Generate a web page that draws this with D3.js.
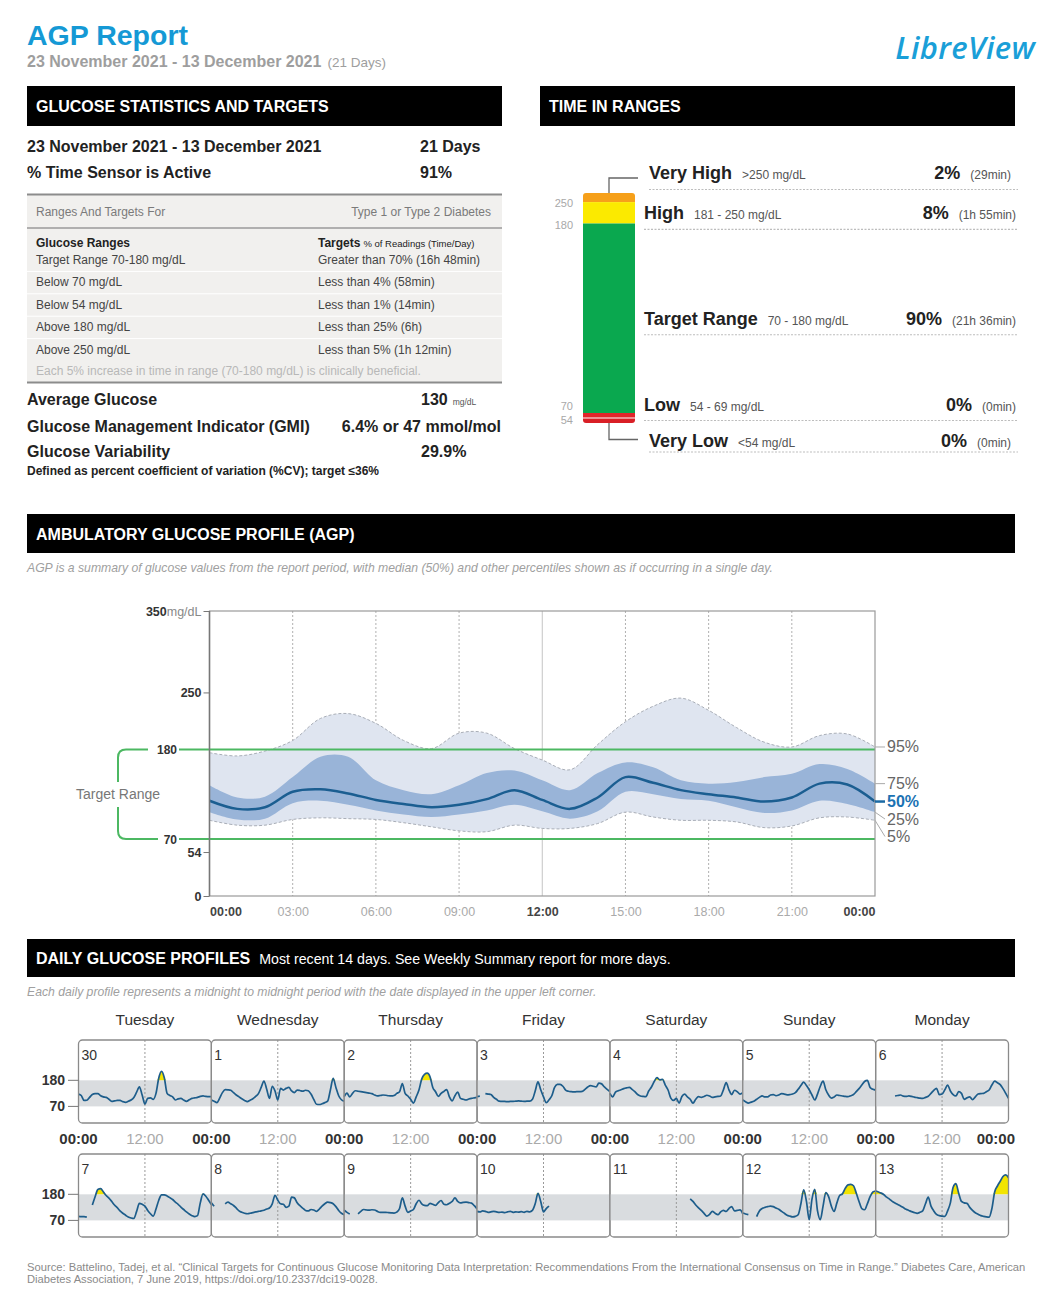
<!DOCTYPE html>
<html>
<head>
<meta charset="utf-8">
<title>AGP Report</title>
<script src="https://cdn.jsdelivr.net/npm/d3@7"></script>
<style>
  body { margin: 0; background: #fff; }
  svg { display: block; }
</style>
</head>
<body>
<script>
// ---- report values ----
var periodText = "23 November 2021 - 13 December 2021";
var reportDays = 21;
var sensorActive = 91;

var rangeRows = ["Target Range 70-180 mg/dL", "Below 70 mg/dL", "Below 54 mg/dL", "Above 180 mg/dL", "Above 250 mg/dL"];
var rangeTargets = ["Greater than 70% (16h 48min)", "Less than 4% (58min)", "Less than 1% (14min)", "Less than 25% (6h)", "Less than 5% (1h 12min)"];

var avgGlucose = 130;
var gmiText = "6.4% or 47 mmol/mol";
var cvText = "29.9%";

var tirNames = ["Very High", "High", "Target Range", "Low", "Very Low"];
var tirRanges = [">250 mg/dL", "181 - 250 mg/dL", "70 - 180 mg/dL", "54 - 69 mg/dL", "<54 mg/dL"];
var tirPct = [2, 8, 90, 0, 0];
var tirTime = ["29min", "1h 55min", "21h 36min", "0min", "0min"];
var tirBounds = [250, 180, 70, 54];
var tirColors = ["#f6a01a", "#fbea00", "#0aa84f", "#e2252b", "#d91f26"];

// AGP percentiles, one value per hour 00:00 .. 24:00 (mg/dL)
var agpHours = d3.range(0, 25);
var agpP95 = [176, 172, 178, 191, 218, 224, 212, 191, 181, 200, 200, 181, 167, 155, 186, 214, 233, 243, 228, 207, 189, 183, 197, 199, 183];
var agpP75 = [136, 121, 122, 146, 171, 171, 142, 130, 125, 136, 151, 154, 142, 130, 151, 164, 158, 142, 138, 140, 146, 150, 162, 156, 138];
var agpP50 = [117, 107, 109, 128, 131, 126, 118, 113, 109, 112, 119, 130, 118, 107, 121, 146, 139, 130, 125, 121, 116, 121, 138, 137, 116];
var agpP25 = [103, 94, 95, 114, 117, 112, 105, 100, 97, 100, 105, 112, 104, 95, 104, 128, 125, 119, 117, 109, 102, 105, 117, 113, 103];
var agpP5 = [93, 87, 87, 94, 96, 95, 94, 90, 85, 80, 79, 87, 83, 83, 89, 103, 97, 93, 93, 91, 84, 86, 96, 97, 93];
var pctLabels = ["95%", "75%", "50%", "25%", "5%"];

// daily profiles, one reading every 30 minutes 00:00 .. 24:00 (null = no data)
var halfHours = d3.range(0, 24.5, 0.5);
var weekdays = ["Tuesday", "Wednesday", "Thursday", "Friday", "Saturday", "Sunday", "Monday"];
var dayNumbers = [30, 1, 2, 3, 4, 5, 6, 7, 8, 9, 10, 11, 12, 13];

var day30 = [122,116,95,96,108,120,124,124,115,110,108,100,91,93,95,95,90,87,92,97,108,130,152,118,80,104,106,100,125,190,218,191,125,116,110,97,102,104,97,91,98,104,106,108,112,114,112,111,111];
var day01 = [97,92,86,105,128,141,140,138,128,118,110,102,95,90,96,102,112,124,150,177,142,104,155,135,97,146,139,146,150,135,128,139,137,134,138,136,122,100,79,78,81,86,92,139,188,150,115,98,92];
var day02 = [111,126,110,125,136,134,132,130,128,126,124,118,114,116,118,117,115,114,116,125,132,166,125,114,100,84,110,139,185,205,210,195,150,132,112,125,133,141,110,93,115,130,104,100,97,101,104,106,108];
var day03 = [111,113,null,124,122,120,108,100,92,91,91,90,91,91,92,93,92,91,92,92,100,135,173,140,110,86,98,115,150,163,163,155,139,134,132,131,132,132,133,142,152,158,155,152,168,165,152,142,132];
var day04 = [125,110,130,136,140,145,148,150,142,132,120,114,112,111,135,152,175,191,182,184,160,139,105,95,104,84,112,122,110,100,84,100,111,108,112,117,114,108,110,112,114,140,170,140,120,138,132,122,128];
var day05 = [97,90,84,88,92,100,108,114,110,110,118,120,115,118,124,122,119,120,122,128,142,158,172,158,140,118,97,122,155,177,140,118,105,110,118,116,114,112,111,115,120,132,145,160,175,180,150,142,139];
var day06 = [null,null,null,null,null,null,null,114,116,118,113,112,114,112,109,107,105,104,108,113,125,138,146,120,122,140,160,135,120,114,132,125,100,106,110,98,110,122,124,125,132,139,160,177,170,162,145,125,104];
var day07 = [87,86,86,84,null,135,170,200,204,190,175,164,150,135,124,110,100,92,84,80,78,108,142,138,130,112,98,88,118,155,178,178,173,166,158,147,138,126,116,106,97,90,86,90,144,182,172,155,137];
var day08 = [144,130,null,null,null,140,147,140,133,122,110,104,100,98,100,103,106,108,110,113,118,122,140,176,155,140,138,125,130,168,165,144,132,122,112,110,116,114,108,118,130,140,147,145,140,128,112,100,94];
var day09 = [113,104,97,null,null,98,108,116,114,113,115,114,108,104,104,104,103,102,101,105,120,165,130,104,110,116,140,155,140,133,132,142,138,133,145,154,138,136,142,150,165,150,144,146,147,145,143,132,118];
var day10 = [108,106,110,108,104,106,108,106,104,105,103,106,108,104,106,105,107,104,108,106,112,140,184,150,106,120,130,null,null,null,null,null,null,null,null,null,null,null,null,null,null,null,null,null,null,null,null,null,null];
var day11 = [null,null,null,null,null,null,null,null,null,null,null,null,null,null,null,null,null,null,null,null,null,null,null,null,null,null,null,null,null,161,150,135,123,112,100,88,95,108,100,94,106,112,108,120,128,110,112,114,98];
var day12 = [101,97,94,null,null,86,110,120,125,128,130,128,122,117,108,100,92,88,85,87,94,140,199,150,73,160,201,110,73,130,187,170,130,108,144,175,182,205,220,222,216,185,150,120,115,140,170,190,194];
var day13 = [194,190,185,178,168,160,150,143,137,131,124,117,112,107,103,100,104,110,140,168,130,110,95,90,88,87,110,144,210,225,185,150,144,142,125,112,102,96,90,87,85,84,120,190,215,235,255,262,250];
var dailyProfiles = [day30, day01, day02, day03, day04, day05, day06, day07, day08, day09, day10, day11, day12, day13];

var sourceLines = [
  "Source: Battelino, Tadej, et al. \u201cClinical Targets for Continuous Glucose Monitoring Data Interpretation: Recommendations From the International Consensus on Time in Range.\u201d Diabetes Care, American",
  "Diabetes Association, 7 June 2019, https://doi.org/10.2337/dci19-0028."
];

// ---- drawing ----
var svg = d3.select("body").append("svg")
    .attr("width", 1047).attr("height", 1303)
    .attr("font-family", '"Liberation Sans", Arial, Helvetica, sans-serif');

function put(g, x, y, str, size, weight, fill, anchor) {
  return g.append("text")
      .attr("x", x).attr("y", y)
      .attr("font-size", size)
      .attr("font-weight", weight || "normal")
      .attr("fill", fill || "#222")
      .attr("text-anchor", anchor || "start")
      .text(str);
}

function blackBar(x, y, w, h, title, sub) {
  svg.append("rect").attr("x", x).attr("y", y).attr("width", w).attr("height", h).attr("fill", "#000");
  var t = svg.append("text").attr("x", x + 9).attr("y", y + h / 2 + 6).attr("fill", "#fff");
  t.append("tspan").attr("font-size", 16).attr("font-weight", "bold").text(title);
  if (sub) t.append("tspan").attr("dx", 9).attr("font-size", 14.2).text(sub);
}

// header
put(svg, 27, 45, "AGP Report", 28.5, "bold", "#1599d5");
var subt = svg.append("text").attr("x", 27).attr("y", 67).attr("fill", "#9e9e9e");
subt.append("tspan").attr("font-size", 16).attr("font-weight", "bold").text(periodText);
subt.append("tspan").attr("font-size", 13.5).attr("dx", 6).text("(" + reportDays + " Days)");
svg.append("text").attr("x", 1035).attr("y", 59).attr("text-anchor", "end")
    .attr("font-family", '"Open Sans", sans-serif').attr("font-style", "italic")
    .attr("font-weight", 600).attr("font-size", 31).attr("fill", "#1a9fd8")
    .attr("letter-spacing", 0.3)
    .text("LibreView");

blackBar(27, 86, 475, 40, "GLUCOSE STATISTICS AND TARGETS");
blackBar(540, 86, 475, 40, "TIME IN RANGES");
blackBar(27, 514, 988, 39, "AMBULATORY GLUCOSE PROFILE (AGP)");
blackBar(27, 939, 988, 38, "DAILY GLUCOSE PROFILES", "Most recent 14 days. See Weekly Summary report for more days.");

// ---- glucose statistics ----
var st = svg.append("g");
put(st, 27, 152, periodText, 16, "bold");
put(st, 420, 152, reportDays + " Days", 16, "bold");
put(st, 27, 177.5, "% Time Sensor is Active", 16, "bold");
put(st, 420, 177.5, sensorActive + "%", 16, "bold");

st.append("rect").attr("x", 27).attr("y", 195).attr("width", 475).attr("height", 187).attr("fill", "#f1f0ee");
st.append("line").attr("x1", 27).attr("x2", 502).attr("y1", 194.5).attr("y2", 194.5).attr("stroke", "#8c8c8c").attr("stroke-width", 2);
st.append("line").attr("x1", 27).attr("x2", 502).attr("y1", 228).attr("y2", 228).attr("stroke", "#9a9a9a").attr("stroke-width", 1.5);
st.append("line").attr("x1", 27).attr("x2", 502).attr("y1", 382.5).attr("y2", 382.5).attr("stroke", "#8c8c8c").attr("stroke-width", 2);
put(st, 36, 216, "Ranges And Targets For", 12, "normal", "#7a7a7a");
put(st, 491, 216, "Type 1 or Type 2 Diabetes", 12, "normal", "#7a7a7a", "end");
put(st, 36, 246.5, "Glucose Ranges", 12, "bold", "#222");
var th = st.append("text").attr("x", 318).attr("y", 246.5).attr("fill", "#222");
th.append("tspan").attr("font-size", 12).attr("font-weight", "bold").text("Targets");
th.append("tspan").attr("font-size", 9.5).attr("dx", 3).text("% of Readings (Time/Day)");

var rowY = d3.scaleLinear().domain([0, 1]).range([264, 286.4]);
rangeRows.forEach(function (r, i) {
  if (i > 0) {
    st.append("line").attr("x1", 27).attr("x2", 502)
        .attr("y1", rowY(i) - 15).attr("y2", rowY(i) - 15)
        .attr("stroke", "#fff").attr("stroke-width", 1);
  }
  put(st, 36, rowY(i), r, 12, "normal", "#444");
  put(st, 318, rowY(i), rangeTargets[i], 12, "normal", "#444");
});
put(st, 36, 374.5, "Each 5% increase in time in range (70-180 mg/dL) is clinically beneficial.", 12, "normal", "#b8b8b8");

put(st, 27, 405, "Average Glucose", 16, "bold");
var ag = st.append("text").attr("x", 421).attr("y", 405).attr("fill", "#222");
ag.append("tspan").attr("font-size", 16).attr("font-weight", "bold").text(avgGlucose);
ag.append("tspan").attr("font-size", 8.5).attr("dx", 5).attr("fill", "#555").text("mg/dL");
put(st, 27, 431.5, "Glucose Management Indicator (GMI)", 16, "bold");
put(st, 501, 431.5, gmiText, 16, "bold", "#222", "end");
put(st, 27, 456.5, "Glucose Variability", 16, "bold");
put(st, 421, 456.5, cvText, 16, "bold");
put(st, 27, 475, "Defined as percent coefficient of variation (%CV); target \u226436%", 12, "bold", "#222");

// ---- time in ranges ----
var tir = svg.append("g");
var tirX = 583, tirW = 52, tirTop = 193, tirLen = 230, tirMin = 5;
var segScale = d3.scaleLinear().domain([0, 100]).range([0, tirLen - tirMin * tirPct.length]);
var segs = [], acc = tirTop;
tirPct.forEach(function (p, i) {
  var h = tirMin + segScale(p);
  segs.push({ y: acc, h: h, i: i });
  acc += h;
});
tir.append("clipPath").attr("id", "tirClip").append("rect")
    .attr("x", tirX).attr("y", tirTop).attr("width", tirW).attr("height", tirLen).attr("rx", 3);
tir.append("g").attr("clip-path", "url(#tirClip)")
  .selectAll("rect").data(segs).join("rect")
    .attr("x", tirX).attr("y", function (d) { return d.y; })
    .attr("width", tirW).attr("height", function (d) { return d.h; })
    .attr("fill", function (d) { return tirColors[d.i]; });
tir.append("line").attr("x1", tirX).attr("x2", tirX + tirW)
    .attr("y1", segs[4].y).attr("y2", segs[4].y).attr("stroke", "#fff").attr("stroke-width", 1.2);

// bound labels left of bar
var boundY = [segs[1].y + 5, segs[2].y + 5, segs[3].y - 3, segs[4].y + 6];
tirBounds.forEach(function (b, i) {
  put(tir, 573, boundY[i], b, 11, "normal", "#a8a8a8", "end");
});

// connectors
var cx = tirX + tirW / 2;
tir.append("path").attr("d", "M" + cx + "," + tirTop + "V178H638")
    .attr("fill", "none").attr("stroke", "#666").attr("stroke-width", 1.3);
tir.append("path").attr("d", "M" + cx + "," + (tirTop + tirLen) + "V439.5H638")
    .attr("fill", "none").attr("stroke", "#666").attr("stroke-width", 1.3);

var labBase = [
  tirTop - 14.5,
  segs[1].y + segs[1].h / 2 + 6.5,
  segs[2].y + segs[2].h / 2 + 6.5,
  segs[3].y - 2.5,
  tirTop + tirLen + 24
];
var labX = [649, 644, 644, 644, 649];
var labEnd = [1011, 1016, 1016, 1016, 1011];
var dotOff = [11, 10, 10, 10, 5];
tirNames.forEach(function (n, i) {
  var t = put(tir, labX[i], labBase[i], n, 18, "bold", "#222");
  var w = t.node().getComputedTextLength();
  put(tir, labX[i] + w + 10, labBase[i], tirRanges[i], 12, "normal", "#555");
  var v = tir.append("text").attr("x", labEnd[i]).attr("y", labBase[i])
      .attr("text-anchor", "end").attr("fill", "#222");
  v.append("tspan").attr("font-size", 18).attr("font-weight", "bold").text(tirPct[i] + "%");
  v.append("tspan").attr("font-size", 12).attr("dx", 10).attr("fill", "#555").text("(" + tirTime[i] + ")");
  tir.append("line").attr("x1", labX[i]).attr("x2", 1018)
      .attr("y1", labBase[i] + dotOff[i]).attr("y2", labBase[i] + dotOff[i])
      .attr("stroke", "#bdbdbd").attr("stroke-width", 1.2).attr("stroke-dasharray", "2,1.5");
});

// ---- AGP ----
put(svg, 27, 572, "AGP is a summary of glucose values from the report period, with median (50%) and other percentiles shown as if occurring in a single day.", 12.2, "normal", "#a0a0a0")
    .attr("font-style", "italic");

var agp = svg.append("g");
var x = d3.scaleLinear().domain([0, 24]).range([209.5, 875]);
var y = d3.scaleLinear().domain([0, 350]).range([896, 611]);
var smooth = d3.curveCatmullRom.alpha(0.5);
var idx = d3.range(agpHours.length);

agp.selectAll("line.vg").data(d3.range(3, 24, 3)).join("line")
    .attr("class", "vg")
    .attr("x1", function (d) { return x(d); }).attr("x2", function (d) { return x(d); })
    .attr("y1", y(350)).attr("y2", y(0))
    .attr("stroke", function (d) { return d === 12 ? "#c4c4c4" : "#b0b0b0"; })
    .attr("stroke-dasharray", function (d) { return d === 12 ? null : "2,2"; });

var outer = d3.area().curve(smooth)
    .x(function (i) { return x(agpHours[i]); })
    .y0(function (i) { return y(agpP5[i]); })
    .y1(function (i) { return y(agpP95[i]); });
var inner = d3.area().curve(smooth)
    .x(function (i) { return x(agpHours[i]); })
    .y0(function (i) { return y(agpP25[i]); })
    .y1(function (i) { return y(agpP75[i]); });
function pLine(arr) {
  return d3.line().curve(smooth)
      .x(function (i) { return x(agpHours[i]); })
      .y(function (i) { return y(arr[i]); })(idx);
}
agp.append("path").attr("d", outer(idx)).attr("fill", "#dfe5f0");
agp.append("path").attr("d", pLine(agpP95)).attr("fill", "none").attr("stroke", "#a9aeb7").attr("stroke-dasharray", "3,2");
agp.append("path").attr("d", pLine(agpP5)).attr("fill", "none").attr("stroke", "#a9aeb7").attr("stroke-dasharray", "3,2");
agp.append("path").attr("d", inner(idx)).attr("fill", "#99b4d8");

// target range lines
[180, 70].forEach(function (v) {
  agp.append("line").attr("x1", 179).attr("x2", x(24)).attr("y1", y(v)).attr("y2", y(v))
      .attr("stroke", "#4cb862").attr("stroke-width", 2);
  put(agp, 177, y(v) + 4.5, v, 12, "bold", "#333", "end");
});
var g180 = y(180), g70 = y(70), bx = 118;
agp.append("path")
    .attr("d", "M148," + g180 + "H" + (bx + 8) + "Q" + bx + "," + g180 + " " + bx + "," + (g180 + 8) + "V782" +
               "M" + bx + ",807V" + (g70 - 8) + "Q" + bx + "," + g70 + " " + (bx + 8) + "," + g70 + "H158")
    .attr("fill", "none").attr("stroke", "#4cb862").attr("stroke-width", 2);
put(agp, bx, 799, "Target Range", 14, "normal", "#777", "middle");

agp.append("path").attr("d", pLine(agpP50)).attr("fill", "none").attr("stroke", "#1b5e91").attr("stroke-width", 2.5);

// frame
agp.append("rect").attr("x", x(0)).attr("y", y(350)).attr("width", x(24) - x(0)).attr("height", y(0) - y(350))
    .attr("fill", "none").attr("stroke", "#9a9a9a").attr("stroke-width", 1.2);
agp.append("line").attr("x1", x(0)).attr("x2", x(0)).attr("y1", y(350)).attr("y2", y(0))
    .attr("stroke", "#777").attr("stroke-width", 1.5);

// y axis
var yAxis = d3.axisLeft(y).tickValues([0, 54, 250, 350]).tickSize(6).tickPadding(2);
var ya = agp.append("g").attr("transform", "translate(" + x(0) + ",0)").call(yAxis);
ya.select(".domain").remove();
ya.selectAll(".tick line").attr("stroke", "#777");
ya.selectAll(".tick text").attr("font-size", 12.5).attr("font-weight", "bold")
    .attr("fill", "#333").attr("font-family", null)
    .each(function (d) {
      if (d === 350) {
        var t = d3.select(this).text("");
        t.append("tspan").text("350");
        t.append("tspan").attr("font-weight", "normal").attr("fill", "#888").text("mg/dL");
      }
    });

// x axis
var xAxis = d3.axisBottom(x).tickValues(d3.range(0, 25, 3)).tickSize(0).tickPadding(11)
    .tickFormat(function (h) { return d3.format("02")(h % 24) + ":00"; });
var xa = agp.append("g").attr("transform", "translate(0," + y(0) + ")").call(xAxis);
xa.select(".domain").remove();
xa.selectAll(".tick text").attr("font-size", 12.5).attr("font-family", null)
    .attr("font-weight", function (d) { return d % 12 === 0 ? "bold" : "normal"; })
    .attr("fill", function (d) { return d % 12 === 0 ? "#444" : "#aaa"; })
    .attr("text-anchor", function (d) { return d === 0 ? "start" : d === 24 ? "end" : "middle"; });

// percentile labels at right
var pctArr = [agpP95, agpP75, agpP50, agpP25, agpP5];
var prev = -1e9;
pctArr.forEach(function (arr, i) {
  var cy = y(arr[arr.length - 1]);
  var ly = Math.max(cy, prev + 17.5);
  prev = ly;
  var blue = pctLabels[i] === "50%";
  agp.append("line").attr("x1", x(24)).attr("x2", x(24) + 10).attr("y1", cy).attr("y2", ly)
      .attr("stroke", blue ? "#1b6aa5" : "#aaa").attr("stroke-width", blue ? 2.5 : 1);
  put(agp, x(24) + 12, ly + 5.5, pctLabels[i], 16, blue ? "bold" : "normal", blue ? "#1b72b3" : "#666");
});

// ---- daily glucose profiles ----
put(svg, 27, 996, "Each daily profile represents a midnight to midnight period with the date displayed in the upper left corner.", 12.2, "normal", "#a0a0a0")
    .attr("font-style", "italic");

var daily = svg.append("g");
var panelX = d3.scaleLinear().domain([0, 7]).range([78.5, 1008.5]);
var pw = panelX(1) - panelX(0), ph = 83;
var rowTop = [1040, 1154];
var hx = d3.scaleLinear().domain([0, 24]).range([0, pw]);
var py = d3.scaleLinear().domain([0, 350]).range([ph, 0]);

weekdays.forEach(function (d, i) {
  put(daily, panelX(i + 0.5), 1024.5, d, 15.5, "normal", "#333", "middle");
});

var dline = d3.line().curve(d3.curveMonotoneX)
    .defined(function (d) { return d != null; })
    .x(function (d, i) { return hx(halfHours[i]); })
    .y(function (d) { return py(d); });
var darea = d3.area().curve(d3.curveMonotoneX)
    .defined(function (d) { return d != null; })
    .x(function (d, i) { return hx(halfHours[i]); })
    .y0(py(180))
    .y1(function (d) { return py(Math.max(d, 180)); });

dailyProfiles.forEach(function (vals, k) {
  var col = k % 7, row = Math.floor(k / 7);
  var g = daily.append("g").attr("transform", "translate(" + panelX(col) + "," + rowTop[row] + ")");
  g.append("rect").attr("x", 0).attr("y", py(180)).attr("width", pw).attr("height", py(70) - py(180)).attr("fill", "#d9dcdf");
  g.append("line").attr("x1", hx(12)).attr("x2", hx(12)).attr("y1", 0).attr("y2", ph)
      .attr("stroke", "#999").attr("stroke-dasharray", "2,2");
  g.append("path").attr("d", darea(vals)).attr("fill", "#f2e400");
  g.append("path").attr("d", dline(vals)).attr("fill", "none").attr("stroke", "#1d5d8b").attr("stroke-width", 1.7);
  g.append("rect").attr("x", 0).attr("y", 0).attr("width", pw).attr("height", ph).attr("rx", 4)
      .attr("fill", "none").attr("stroke", "#8a8a8a").attr("stroke-width", 1.3);
  put(g, 3, 20, dayNumbers[k], 14, "normal", "#333");
});

// row axes
rowTop.forEach(function (t) {
  [180, 70].forEach(function (v) {
    daily.append("line").attr("x1", 68).attr("x2", panelX(0)).attr("y1", t + py(v)).attr("y2", t + py(v)).attr("stroke", "#777");
    put(daily, 65, t + py(v) + 5, v, 14, "bold", "#333", "end");
  });
});

// time labels between rows
d3.range(0, 7.5, 0.5).forEach(function (p) {
  var mid = p % 1 !== 0;
  var anchor = p === 7 ? "end" : "middle";
  var xx = p === 7 ? 1015 : panelX(p);
  put(daily, xx, 1143.5, mid ? "12:00" : "00:00", 15, mid ? "normal" : "bold", mid ? "#aaa" : "#333", anchor);
});

// footer
sourceLines.forEach(function (s, i) {
  put(svg, 27, 1270.5 + i * 12, s, 11.2, "normal", "#8a8a8a");
});
</script>
</body>
</html>
